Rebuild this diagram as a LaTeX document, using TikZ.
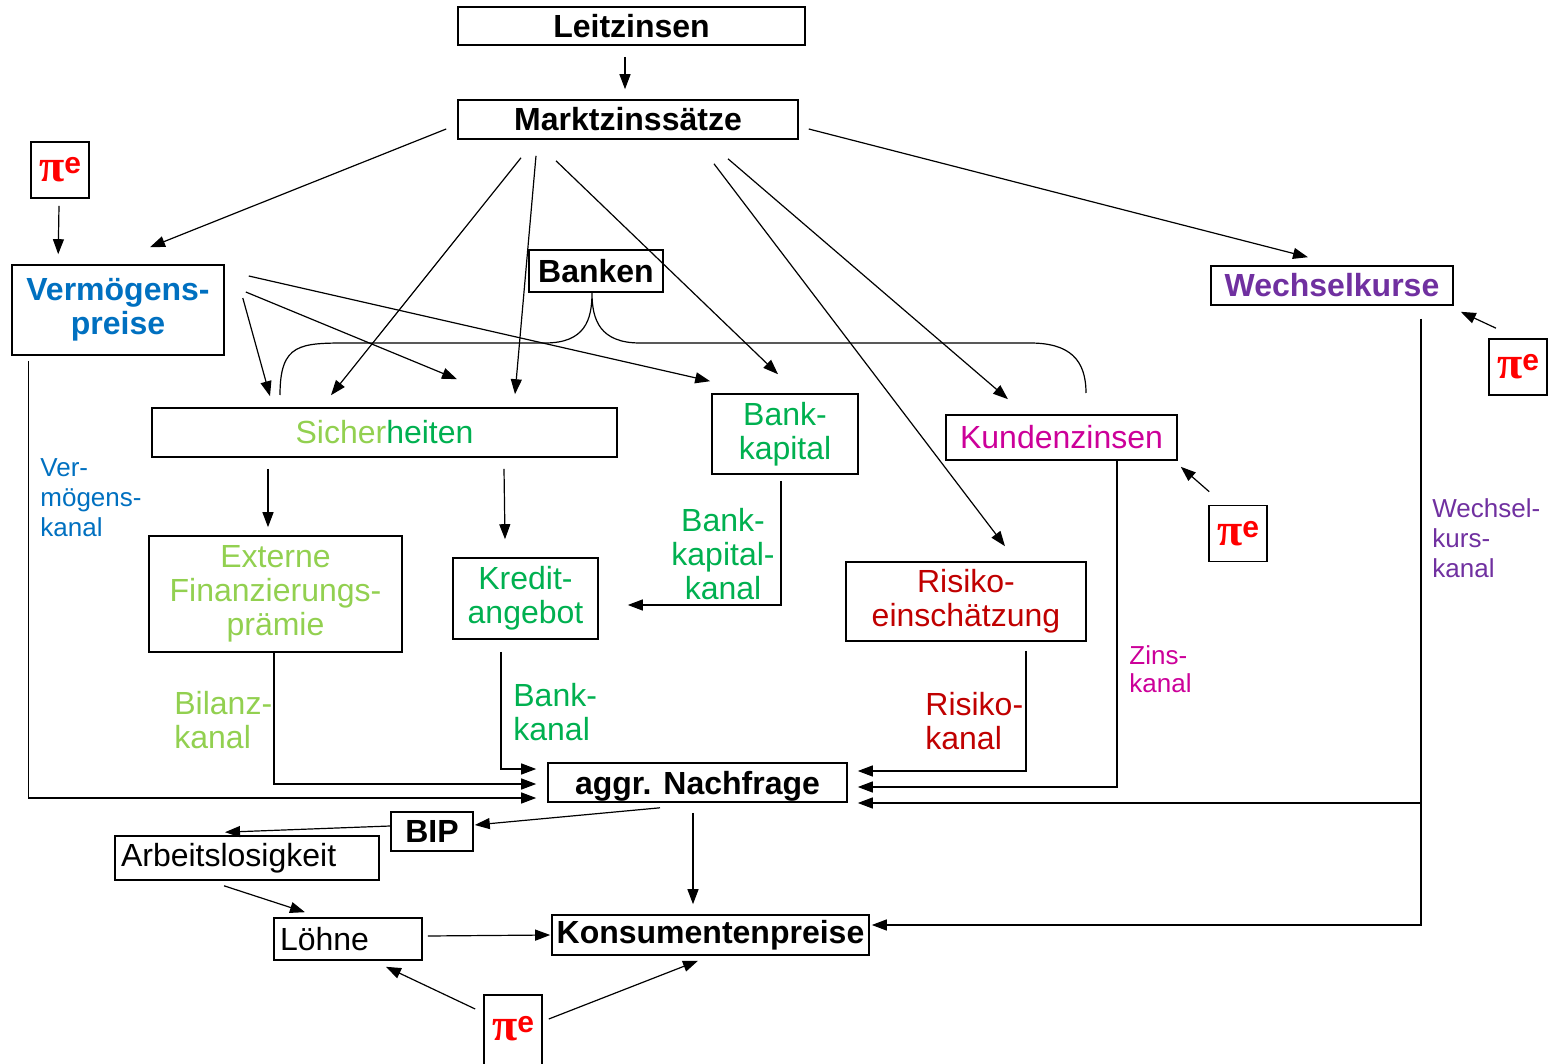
\documentclass[tikz,border=0pt]{standalone}
\usepackage{fontspec}
\setmainfont{Liberation Sans}
\newfontfamily\pifont{Liberation Serif}
\usepackage{tikz}
\usetikzlibrary{arrows.meta,positioning}
\definecolor{vblue}{RGB}{0,112,192}
\definecolor{lgreen}{RGB}{146,208,80}
\definecolor{bgreen}{RGB}{0,176,80}
\definecolor{kmagenta}{RGB}{204,0,153}
\definecolor{rdark}{RGB}{192,0,0}
\definecolor{wpurple}{RGB}{112,48,160}
\definecolor{pired}{RGB}{255,0,0}
\newcommand{\piE}{{\pifont\fontsize{23}{24}\selectfont\bfseries π}\raisebox{0.4em}{\fontsize{15}{16}\selectfont\bfseries e}}

\begin{document}
\begin{tikzpicture}[x=0.5pt, y=-0.5pt,
  box/.style={draw, line width=0.8pt, inner sep=2pt, align=center,
              font=\fontsize{16}{17}\selectfont},
  bbox/.style={box, font=\fontsize{16}{17}\selectfont\bfseries},
  pibox/.style={draw, line width=0.8pt, minimum width=29pt, minimum height=28pt,
                inner sep=0pt, text=pired},
  lbl/.style={align=left, inner sep=0pt, font=\fontsize{16}{17}\selectfont},
  slbl/.style={align=left, inner sep=0pt, font=\fontsize{13}{15}\selectfont},
  arr/.style={-{Triangle[length=7.5pt,width=5.5pt]}, line width=0.6pt},
  link/.style={line width=0.6pt}
]
  \useasboundingbox (0,0) rectangle (1549,1064);

  \node[bbox, minimum width=173.5pt, minimum height=19pt] (lz) at (631.5,26) {Leitzinsen};
  \node[bbox, minimum width=170pt, minimum height=19.5pt] (mz) at (628,119.5) {Marktzinssätze};
  \node[pibox] (pia) at (60,170) {\piE};
  \node[bbox, text=vblue, minimum width=106pt, minimum height=45pt] (vp) at (118,310) {Vermögens-\\preise};
  \node[bbox, minimum width=67pt, minimum height=21pt] (bk) at (596,271) {Banken};
  \node[bbox, text=wpurple, minimum width=121pt, minimum height=19.5pt] (wk) at (1332,285.5) {Wechselkurse};
  \node[pibox] (pib) at (1518,367) {\piE};
  \node[box, text=lgreen, minimum width=232.5pt, minimum height=24.5pt] (sh) at (384.5,432.5) {Sicher\textcolor{bgreen}{heiten}};
  \node[box, text=bgreen, minimum width=73pt, minimum height=40pt] (bkap) at (785,434) {Bank-\\kapital};
  \node[box, text=kmagenta, minimum width=115.5pt, minimum height=22.5pt] (kz) at (1061.5,437.5) {Kundenzinsen};
  \node[pibox] (pic) at (1238,533.5) {\piE};
  \node[box, text=lgreen, minimum width=126.5pt, minimum height=58pt] (efp) at (275.5,594) {Externe\\Finanzierungs-\\prämie};
  \node[box, text=bgreen, minimum width=72.5pt, minimum height=40.5pt] (ka) at (525.5,598.5) {Kredit-\\angebot};
  \node[box, text=rdark, minimum width=120pt, minimum height=39.5pt] (re) at (966,601.5) {Risiko-\\einschätzung};
  \node[bbox, text depth=0pt, minimum width=149.5pt, minimum height=19.5pt] (an) at (697.5,782.5) {aggr. Nachfrage};
  \node[bbox, minimum width=41pt, minimum height=19.5pt] (bip) at (432,831.5) {BIP};
  \node[box, inner xsep=3pt, text width=126pt, align=left, minimum height=22pt] (al) at (247,858) {Arbeitslosigkeit};
  \node[box, inner xsep=3pt, text width=68pt, align=left, minimum height=21pt] (lo) at (348,939) {Löhne};
  \node[bbox, inner xsep=1pt, minimum width=158.5pt, minimum height=20pt] (kp) at (710.5,935) {Konsumentenpreise};
  \node[pibox, anchor=north, minimum height=45pt, text depth=11pt] (pid) at (513,994) {\piE};

  \node[slbl, text=vblue, anchor=west] (vkl) at (40,498) {Ver-\\mögens-\\kanal};
  \node[lbl, text=lgreen, anchor=west] (bil) at (174,720) {Bilanz-\\kanal};
  \node[lbl, text=bgreen, anchor=west] (bkl) at (513,712) {Bank-\\kanal};
  \node[lbl, text=bgreen, align=center] (bkkl) at (723,554) {Bank-\\kapital-\\kanal};
  \node[lbl, text=rdark, anchor=west] (rkl) at (925,721.5) {Risiko-\\kanal};
  \node[slbl, text=kmagenta, anchor=west, font=\fontsize{13}{14}\selectfont] (zkl) at (1129,669) {Zins-\\kanal};
  \node[slbl, text=wpurple, anchor=west] (wkl) at (1432,538) {Wechsel-\\kurs-\\kanal};

  \draw[link] (280,395) .. controls (280,343) and (300,343) .. (350,343) -- (545,343)
    .. controls (585,343) and (592,320) .. ([shift={(-4,0)}]bk.south)
    .. controls (592,320) and (600,343) .. (640,343) -- (1030,343)
    .. controls (1070,343) and (1086,360) .. (1086,393);

  \draw[arr] ([shift={(-6.5,11)}]lz.south) -- ([shift={(-3,-10)}]mz.north);
  \draw[arr] ([shift={(-11,9.5)}]mz.west) -- ([shift={(32,-17)}]vp.north);
  \draw[arr] ([shift={(-107,18)}]mz.south) -- ([shift={(-53.5,-12)}]sh.north);
  \draw[arr] ([shift={(-92,16)}]mz.south) -- ([shift={(130.5,-13)}]sh.north);
  \draw[arr] ([shift={(-72,21)}]mz.south) -- ([shift={(-7,-19)}]bkap.north);
  \draw[arr] ([shift={(86,24)}]mz.south) -- ([shift={(39,-15)}]re.north);
  \draw[arr] ([shift={(100,19)}]mz.south) -- ([shift={(-53.5,-15)}]kz.north);
  \draw[arr] ([shift={(10,9.5)}]mz.east) -- ([shift={(-24,-8)}]wk.north);

  \draw[arr] ([shift={(-1,7)}]pia.south) -- ([shift={(47,-10)}]vp.north west);
  \draw[arr] ([shift={(18,-12)}]vp.east) -- ([shift={(-114.5,-11)}]sh.north);
  \draw[arr] ([shift={(21,-18)}]vp.east) -- ([shift={(72.5,-28)}]sh.north);
  \draw[arr] ([shift={(24,-34)}]vp.east) -- ([shift={(-1,-12)}]bkap.north west);

  \draw[arr] ([shift={(-22,-10)}]pib.north) -- ([shift={(7,6)}]wk.south east);
  \draw[arr] ([shift={(1,-13)}]pic.north west) -- ([shift={(3,6)}]kz.south east);

  \draw[arr] ([shift={(-116.5,11)}]sh.south) -- ([shift={(-7.5,-8)}]efp.north);
  \draw[arr] ([shift={(119.5,11)}]sh.south) -- ([shift={(-20.5,-18)}]ka.north);
  \draw[arr] ([shift={(-4,6)}]bkap.south) |- ([shift={(29,6.5)}]ka.east);

  \draw[arr] ([shift={(-24.5,12)}]ka.south) |- ([shift={(-11,-13.5)}]an.west);
  \draw[arr] ([shift={(-1.5,0)}]efp.south) |- ([shift={(-11,1.5)}]an.west);
  \draw[arr] ([shift={(17,5)}]vp.south west) |- ([shift={(-11,15.5)}]an.west);
  \draw[arr] ([shift={(60,9)}]re.south) |- ([shift={(10,-11.5)}]an.east);
  \draw[arr] ([shift={(55.5,0)}]kz.south) |- ([shift={(10,4.5)}]an.east);
  \draw[arr] ([shift={(89,13)}]wk.south) |- ([shift={(10,20.5)}]an.east);
  \draw[arr] ([shift={(89,13)}]wk.south) |- ([shift={(2,-10)}]kp.east);

  \draw[arr] ([shift={(-37.5,5)}]an.south) -- ([shift={(1,-6.5)}]bip.east);
  \draw[arr] ([shift={(0,-5.5)}]bip.west) -- ([shift={(-22,-3)}]al.north);
  \draw[arr] ([shift={(-4.5,10)}]an.south) -- ([shift={(-17.5,-10)}]kp.north);
  \draw[arr] ([shift={(-23,5)}]al.south) -- ([shift={(-43,-5)}]lo.north);
  \draw[arr] ([shift={(5,-3)}]lo.east) -- ([shift={(-1,0)}]kp.west);
  \draw[arr] ([shift={(-8,15)}]pid.north west) -- ([shift={(38,6)}]lo.south);
  \draw[arr] ([shift={(6,25)}]pid.north east) -- ([shift={(-12.5,5)}]kp.south);
\end{tikzpicture}
\end{document}
